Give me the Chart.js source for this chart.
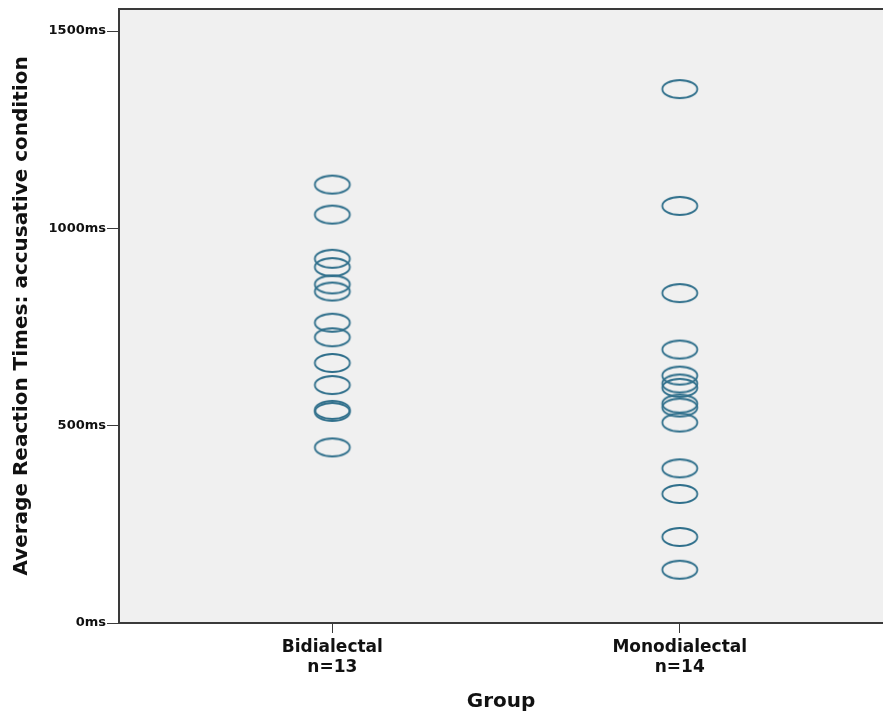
<!DOCTYPE html>
<html>
<head>
<meta charset="utf-8">
<script src="https://cdn.jsdelivr.net/npm/chart.js@4.4.1/dist/chart.umd.min.js"></script>
<style>
  html, body { margin: 0; padding: 0; background: #ffffff; overflow: hidden; }
  #wrap { width: 883px; height: 714px; }
</style>
</head>
<body>
<div id="wrap"><canvas id="c" width="883" height="714"></canvas></div>
<script>
// Group labels and sample sizes shown under the x axis
const groups = ['Bidialectal', 'Monodialectal'];
const countLabels = ['n=13', 'n=14'];

// Average reaction times (ms) per participant
const bidialectal = [1111, 1035, 923, 902, 858, 840, 761, 724, 659, 603, 540, 535, 445];
const monodialectal = [1353, 1057, 836, 693, 627, 607, 596, 556, 546, 508, 392, 327, 218, 135];

// Y axis ticks
const yTicks = [0, 500, 1000, 1500];

const strokeColor = '#2f6f8b';
const font = '"DejaVu Sans", Verdana, sans-serif';

// Hollow ellipse used as the point marker
function makeEllipse() {
  const cv = document.createElement('canvas');
  cv.width = 42; cv.height = 24;
  const g = cv.getContext('2d');
  g.strokeStyle = strokeColor;
  g.lineWidth = 1.8;
  g.beginPath();
  g.ellipse(21, 12, 17.5, 9, 0, 0, Math.PI * 2);
  g.stroke();
  return cv;
}
const marker = makeEllipse();

const toPoints = (vals, x) => vals.map(v => ({ x: x, y: v }));

// Plot background and frame (left, top and bottom edges)
const framePlugin = {
  id: 'frame',
  beforeDraw(chart) {
    const { ctx, chartArea: a } = chart;
    ctx.save();
    ctx.fillStyle = '#f0f0f0';
    ctx.fillRect(a.left, a.top, chart.width - a.left, a.bottom - a.top);
    ctx.restore();
  },
  afterDraw(chart) {
    const { ctx, chartArea: a } = chart;
    ctx.save();
    ctx.strokeStyle = '#3a3a3a';
    ctx.lineWidth = 2;
    ctx.beginPath();
    ctx.moveTo(chart.width, a.top);
    ctx.lineTo(a.left, a.top);
    ctx.lineTo(a.left, a.bottom);
    ctx.lineTo(chart.width, a.bottom);
    ctx.stroke();
    ctx.restore();
  }
};

new Chart(document.getElementById('c'), {
  type: 'scatter',
  data: {
    datasets: [
      { label: groups[0], data: toPoints(bidialectal, 1), pointStyle: marker, clip: false },
      { label: groups[1], data: toPoints(monodialectal, 2), pointStyle: marker, clip: false }
    ]
  },
  options: {
    responsive: false,
    animation: false,
    events: [],
    layout: { autoPadding: false, padding: { top: 9, right: 0, left: 0, bottom: 0 } },
    plugins: { legend: { display: false }, tooltip: { enabled: false } },
    scales: {
      x: {
        type: 'linear',
        min: 0.386,
        max: 2.585,
        afterBuildTicks(scale) { scale.ticks = [{ value: 1 }, { value: 2 }]; },
        afterFit(scale) { scale.height = 91; },
        grid: { drawOnChartArea: false, drawTicks: true, tickLength: 10, color: '#3a3a3a', lineWidth: 1 },
        border: { display: false },
        ticks: {
          autoSkip: false,
          maxRotation: 0,
          padding: 5,
          color: '#111111',
          font: { family: font, size: 17, weight: 'bold', lineHeight: 1.15 },
          callback(v) { const i = Math.round(v) - 1; return [groups[i], countLabels[i]]; }
        },
        title: {
          display: true,
          text: 'Group',
          color: '#111111',
          font: { family: font, size: 20, weight: 'bold', lineHeight: 1.2 },
          padding: { top: 4, bottom: 0 }
        }
      },
      y: {
        min: 0,
        max: 1556,
        afterBuildTicks(scale) { scale.ticks = yTicks.map(v => ({ value: v })); },
        afterFit(scale) { scale.width = 119; },
        grid: { drawOnChartArea: false, drawTicks: true, tickLength: 12, color: '#3a3a3a', lineWidth: 1 },
        border: { display: false },
        ticks: {
          padding: 1,
          color: '#111111',
          font: { family: font, size: 13, weight: 'bold' },
          callback(v) { return v + 'ms'; }
        },
        title: {
          display: true,
          text: 'Average Reaction Times: accusative condition',
          color: '#111111',
          font: { family: font, size: 20, weight: 'bold', lineHeight: 1.2 },
          padding: { top: 10, bottom: 0 }
        }
      }
    }
  },
  plugins: [framePlugin]
});
</script>
</body>
</html>
